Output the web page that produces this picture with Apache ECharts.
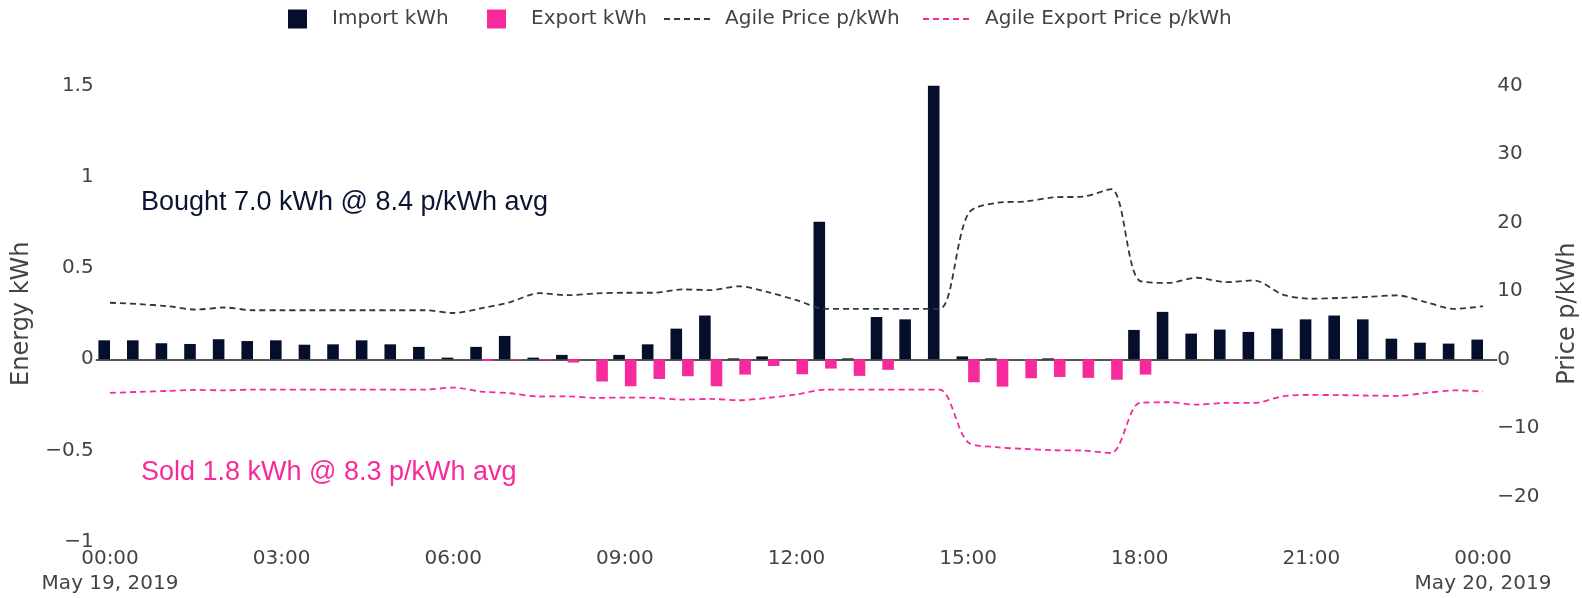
<!DOCTYPE html>
<html>
<head>
<meta charset="utf-8">
<script src="https://cdn.jsdelivr.net/npm/echarts@6/dist/echarts.min.js"></script>
<style>
  html, body { margin: 0; padding: 0; background: #fff; }
  #chart { width: 1582px; height: 598px; }
</style>
</head>
<body>
<div id="chart"></div>
<script>
// Half-hour slots, 00:00 May 19 to 00:00 May 20, 2019
const slotTimes = [
  '2019-05-19 00:00','2019-05-19 00:30','2019-05-19 01:00','2019-05-19 01:30','2019-05-19 02:00','2019-05-19 02:30',
  '2019-05-19 03:00','2019-05-19 03:30','2019-05-19 04:00','2019-05-19 04:30','2019-05-19 05:00','2019-05-19 05:30',
  '2019-05-19 06:00','2019-05-19 06:30','2019-05-19 07:00','2019-05-19 07:30','2019-05-19 08:00','2019-05-19 08:30',
  '2019-05-19 09:00','2019-05-19 09:30','2019-05-19 10:00','2019-05-19 10:30','2019-05-19 11:00','2019-05-19 11:30',
  '2019-05-19 12:00','2019-05-19 12:30','2019-05-19 13:00','2019-05-19 13:30','2019-05-19 14:00','2019-05-19 14:30',
  '2019-05-19 15:00','2019-05-19 15:30','2019-05-19 16:00','2019-05-19 16:30','2019-05-19 17:00','2019-05-19 17:30',
  '2019-05-19 18:00','2019-05-19 18:30','2019-05-19 19:00','2019-05-19 19:30','2019-05-19 20:00','2019-05-19 20:30',
  '2019-05-19 21:00','2019-05-19 21:30','2019-05-19 22:00','2019-05-19 22:30','2019-05-19 23:00','2019-05-19 23:30',
  '2019-05-20 00:00'
];
const dateLabels = { '2019-05-19': 'May 19, 2019', '2019-05-20': 'May 20, 2019' };

const importKWh = [
  0.104, 0.104, 0.088, 0.084, 0.110, 0.100, 0.104, 0.080, 0.082, 0.104, 0.082, 0.068,
  0.009, 0.068, 0.128, 0.009, 0.024, 0, 0.024, 0.082, 0.168, 0.240, 0.005, 0.016,
  0, 0.755, 0.005, 0.232, 0.219, 1.5, 0.016, 0.005, 0, 0.005, 0, 0,
  0.161, 0.260, 0.141, 0.163, 0.150, 0.168, 0.219, 0.240, 0.219, 0.113, 0.091, 0.086,
  0.108
];
const exportKWh = [
  0, 0, 0, 0, 0, 0, 0, 0, 0, 0, 0, 0,
  0, -0.009, -0.005, -0.005, -0.018, -0.122, -0.148, -0.108, -0.093, -0.148, -0.084, -0.037,
  -0.082, -0.051, -0.091, -0.058, 0, 0, -0.126, -0.150, -0.104, -0.097, -0.102, -0.112,
  -0.084, 0, 0, 0, 0, 0, 0, 0, 0, 0, 0, 0,
  0
];
const agilePrice = [
  8.3, 8.1, 7.8, 7.3, 7.6, 7.2, 7.2, 7.2, 7.2, 7.2, 7.2, 7.2,
  6.8, 7.5, 8.4, 9.7, 9.4, 9.66, 9.76, 9.76, 10.24, 10.15, 10.7, 9.85,
  8.68, 7.41, 7.41, 7.41, 7.41, 7.41, 21.3, 22.9, 23.1, 23.7, 23.8, 24.9,
  11.5, 11.2, 11.95, 11.3, 11.56, 9.5, 8.88, 9.0, 9.17, 9.37, 8.4, 7.4,
  7.8
];
const agileExportPrice = [
  -4.88, -4.73, -4.59, -4.44, -4.5, -4.4, -4.4, -4.4, -4.4, -4.4, -4.4, -4.4,
  -4.1, -4.68, -4.93, -5.4, -5.37, -5.6, -5.56, -5.6, -5.85, -5.76, -5.95, -5.6,
  -5.1, -4.39, -4.39, -4.39, -4.39, -4.39, -12.1, -12.8, -13.07, -13.25, -13.3, -13.66,
  -6.34, -6.24, -6.6, -6.34, -6.34, -5.37, -5.17, -5.2, -5.27, -5.3, -4.88, -4.5,
  -4.68
];

const energyTicks = { min: -1, max: 1.5, interval: 0.5 };
const priceTicks = { min: -20, max: 40, interval: 10 };
const boughtText = 'Bought 7.0 kWh @ 8.4 p/kWh avg';
const soldText = 'Sold 1.8 kWh @ 8.3 p/kWh avg';

const NAVY = '#050f2c';
const PINK = '#f72a9b';
const LINE_DARK = '#2e3649';
const TXT = '#444';
const FONT = 'DejaVu Sans, Verdana, sans-serif';

const minusFmt = v => String(v).replace('-', '\u2212');

const GRID_LEFT = 95.7, GRID_W = 1401.6, GRID_TOP = 85.8;
const GRID_H0 = 455.8;   // energy axis -1 .. 1.5
const GRID_H1 = 410.6;   // price axis -20 .. 40 (zeroes aligned, same px per unit ratio)

const chart = echarts.init(document.getElementById('chart'), null, { renderer: 'canvas' });

const barLegend = (name, left) => ({
  data: [{ name: name, icon: 'rect' }], left: left, top: 9, padding: 0, itemWidth: 19, itemHeight: 19,
  selectedMode: false,
  textStyle: { fontFamily: FONT, fontSize: 20, color: TXT, padding: [0, 0, 0, 20] }
});
const lineLegend = (name, left, padLeft) => ({
  data: [name], left: left, top: 9, padding: 0, itemWidth: 48, itemHeight: 19,
  selectedMode: false,
  itemStyle: { color: 'rgba(0,0,0,0)', borderColor: 'rgba(0,0,0,0)', borderWidth: 0, opacity: 0 },
  textStyle: { fontFamily: FONT, fontSize: 20, color: TXT, padding: [0, 0, 0, padLeft] }
});

chart.setOption({
  animation: false,
  backgroundColor: '#fff',
  title: [
    { text: boughtText, left: 141, top: 187, padding: 0,
      textStyle: { fontFamily: 'Liberation Sans, Arial, sans-serif', fontSize: 27, fontWeight: 'normal', color: '#0b1533', lineHeight: 32 } },
    { text: soldText, left: 141, top: 457, padding: 0,
      textStyle: { fontFamily: 'Liberation Sans, Arial, sans-serif', fontSize: 27, fontWeight: 'normal', color: PINK, lineHeight: 32 } }
  ],
  legend: [
    barLegend('Import kWh', 288),
    barLegend('Export kWh', 487),
    lineLegend('Agile Price p/kWh', 663, 8),
    lineLegend('Agile Export Price p/kWh', 922, 9)
  ],
  grid: [
    { left: GRID_LEFT, top: GRID_TOP, width: GRID_W, height: GRID_H0, containLabel: false, outerBoundsMode: 'none' },
    { left: GRID_LEFT, top: GRID_TOP, width: GRID_W, height: GRID_H1, containLabel: false, outerBoundsMode: 'none' }
  ],
  xAxis: [
    { type: 'category', gridIndex: 0, data: slotTimes, boundaryGap: true,
      axisLine: { show: false, onZero: false }, axisTick: { show: false }, splitLine: { show: false },
      axisLabel: {
        interval: 5, margin: 5, color: TXT, fontFamily: FONT, fontSize: 20, lineHeight: 25,
        formatter: (v) => {
          const hm = v.slice(11);
          return hm === '00:00' ? hm + '\n' + dateLabels[v.slice(0, 10)] : hm;
        }
      } },
    { type: 'category', gridIndex: 1, data: slotTimes, boundaryGap: true, show: false }
  ],
  yAxis: [
    { type: 'value', gridIndex: 0, position: 'left', min: energyTicks.min, max: energyTicks.max, interval: energyTicks.interval,
      name: 'Energy kWh', nameLocation: 'middle', nameRotate: 90, nameGap: 58,
      nameTextStyle: { fontFamily: FONT, fontSize: 24, color: TXT },
      axisLine: { show: false }, axisTick: { show: false }, splitLine: { show: false },
      axisLabel: { color: TXT, fontFamily: FONT, fontSize: 20, margin: 2, formatter: minusFmt } },
    { type: 'value', gridIndex: 1, position: 'right', min: priceTicks.min, max: priceTicks.max, interval: priceTicks.interval,
      axisLine: { show: false }, axisTick: { show: false }, splitLine: { show: false },
      axisLabel: { color: TXT, fontFamily: FONT, fontSize: 20, margin: 0, formatter: minusFmt } },
    { type: 'value', gridIndex: 0, position: 'right', min: energyTicks.min, max: energyTicks.max,
      name: 'Price p/kWh', nameLocation: 'middle', nameRotate: 90, nameGap: 58,
      nameTextStyle: { fontFamily: FONT, fontSize: 24, color: TXT },
      axisLine: { show: false }, axisTick: { show: false }, splitLine: { show: false }, axisLabel: { show: false } }
  ],
  series: [
    { name: 'Import kWh', type: 'bar', xAxisIndex: 0, yAxisIndex: 0, data: importKWh,
      barWidth: 11.6, barGap: '0%', itemStyle: { color: NAVY },
      markLine: { silent: true, symbol: 'none', label: { show: false }, z: 1,
        lineStyle: { color: '#555', width: 2, type: 'solid' }, data: [{ yAxis: 0 }] } },
    { name: 'Export kWh', type: 'bar', xAxisIndex: 0, yAxisIndex: 0, data: exportKWh,
      barWidth: 11.6, barGap: '0%', itemStyle: { color: PINK } },
    { name: 'Agile Price p/kWh', type: 'line', xAxisIndex: 1, yAxisIndex: 1, data: agilePrice,
      symbol: 'none', smooth: 0.3, itemStyle: { color: LINE_DARK },
      lineStyle: { color: LINE_DARK, width: 1.8, type: [6, 4] } },
    { name: 'Agile Export Price p/kWh', type: 'line', xAxisIndex: 1, yAxisIndex: 1, data: agileExportPrice,
      symbol: 'none', smooth: 0.3, itemStyle: { color: PINK },
      lineStyle: { color: PINK, width: 1.8, type: [6, 4] } }
  ]
});
</script>
</body>
</html>
